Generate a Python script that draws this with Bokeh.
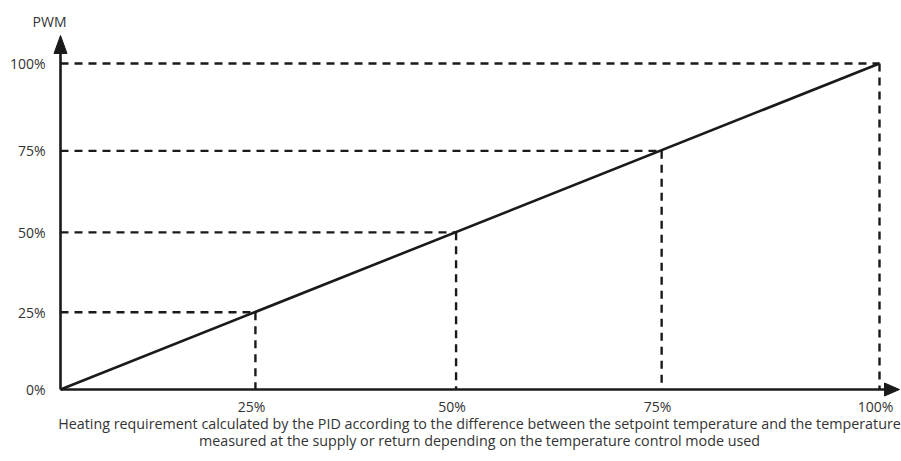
from bokeh.plotting import figure
from bokeh.models import Range1d
from bokeh.core.properties import value
from bokeh.embed import file_html
from bokeh.resources import INLINE

# ---- data ----
tick_labels = ["25%", "50%", "75%", "100%"]
x_points = [23.8, 48.3, 73.4, 100.0]   # heating requirement, where the marks sit
y_points = [23.7, 48.2, 73.2, 100.0]   # PWM, where the marks sit
line_x = [0, 100]
line_y = [0, 100]
y_ticks = [0] + y_points
y_tick_labels = ["0%"] + tick_labels
x_title = ["Heating requirement calculated by the PID according to the difference between the setpoint temperature and the temperature",
           "measured at the supply or return depending on the temperature control mode used"]
y_title = "PWM"

# ---- layout (pixels) ----
W, H = 901, 461
SX, SY = 8.19, 3.26            # px per data unit
ORIGIN_X, ORIGIN_Y = 60, 389   # canvas px of data (0, 0)
FONT = "Open Sans"
TXT = "#333333"
INK = "#1a1a1a"

x_range = Range1d(-ORIGIN_X / SX, (W - ORIGIN_X) / SX)
y_range = Range1d((ORIGIN_Y - H) / SY, ORIGIN_Y / SY)

p = figure(width=W, height=H, x_range=x_range, y_range=y_range,
           output_backend="svg", toolbar_location=None,
           min_border=0, min_border_left=0, min_border_right=0,
           min_border_top=0, min_border_bottom=0)
p.outline_line_color = None
p.xgrid.visible = False
p.ygrid.visible = False
p.axis.visible = False
p.background_fill_color = "white"
p.border_fill_color = "white"

# dashed guides
p.segment(x0=[0] * len(y_points), y0=y_points, x1=x_points, y1=y_points,
          line_color=INK, line_width=2.4, line_dash="8 6")
p.segment(x0=x_points, y0=y_points, x1=x_points, y1=[0] * len(x_points),
          line_color=INK, line_width=2.4, line_dash="8 6")

# main line
p.line(line_x, line_y, line_color=INK, line_width=2.6)

# axis lines with arrow heads
Y_TIP = (ORIGIN_Y - 35) / SY
Y_LEN, Y_HALF = 18 / SY, 6.5 / SX
X_TIP = (899 - ORIGIN_X) / SX
X_LEN, X_HALF = 15 / SX, 6.5 / SY
p.segment(x0=[0, 0], y0=[0, 0], x1=[0, X_TIP - X_LEN], y1=[Y_TIP - Y_LEN, 0],
          line_color=INK, line_width=2.6)
p.patches(xs=[[0, -Y_HALF, Y_HALF], [X_TIP, X_TIP - X_LEN, X_TIP - X_LEN]],
          ys=[[Y_TIP, Y_TIP - Y_LEN, Y_TIP - Y_LEN], [0, X_HALF, -X_HALF]],
          fill_color=INK, line_color=INK, line_width=1)

# tick labels
p.text(x=[0] * len(y_ticks), y=y_ticks, text=y_tick_labels, x_offset=-15,
       text_align="right", text_baseline="middle",
       text_font=value(FONT), text_font_size="14px", text_color=TXT)
p.text(x=x_points, y=[-17 / SY] * len(x_points), text=tick_labels, x_offset=-4,
       text_align="center", text_baseline="middle",
       text_font=value(FONT), text_font_size="14px", text_color=TXT)

# axis titles
title_cx = (479 - ORIGIN_X) / SX
p.text(x=[title_cx, title_cx], y=[(ORIGIN_Y - 423) / SY, (ORIGIN_Y - 440) / SY],
       text=x_title, text_align="center", text_baseline="middle",
       text_font=value(FONT), text_font_size="14.3px", text_color=TXT)
p.text(x=[(49 - ORIGIN_X) / SX], y=[(ORIGIN_Y - 21) / SY], text=[y_title],
       text_align="center", text_baseline="middle",
       text_font=value(FONT), text_font_size="14px", text_color=TXT)

open("out.html", "w").write(file_html(p, INLINE))
